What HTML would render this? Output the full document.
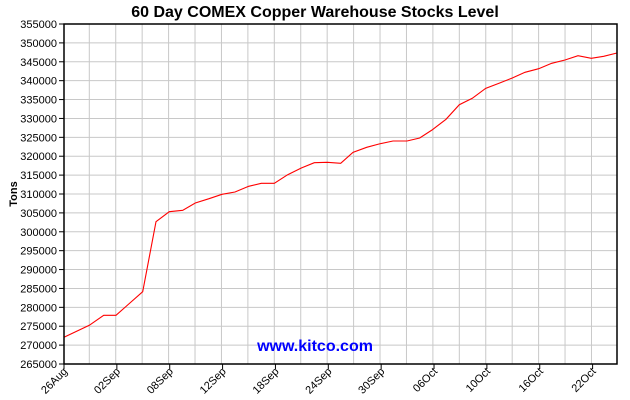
<!DOCTYPE html>
<html><head><style>body{margin:0;background:#fff}svg{display:block}</style></head><body>
<svg width="630" height="400" xmlns="http://www.w3.org/2000/svg" font-family="Liberation Sans, Arial, sans-serif">
<rect width="630" height="400" fill="#fff"/>
<text x="315" y="17" text-anchor="middle" font-size="16" font-weight="bold">60 Day COMEX Copper Warehouse Stocks Level</text>
<g stroke="#c8c8c8" stroke-width="1" id="grid"></g>
<g id="g"></g>
<text x="315" y="351" text-anchor="middle" font-size="16" font-weight="bold" fill="#0000ff">www.kitco.com</text>
<polyline fill="none" stroke="#ff0000" stroke-width="1.1" points="64,337.3 89.3,325.3 103.7,315.3 116,315.3 142.7,291.7 156,221.7 169.3,211.7 182.7,210.3 195.3,203 209,198.7 222,194.3 235,192 248.7,186.3 261.3,183.3 274.3,183.3 287.7,174.7 301.3,168 314.3,162.7 327.3,162.3 340.7,163.3 353,152.3 366.7,147.3 379,144 393,141 407,141 419.7,138 432,130 446,119.3 459.3,104.7 472.3,98.3 485.7,88.3 499.7,83 512.3,78 525,72.3 538.7,68.7 551.7,63.3 565,60 578,55.7 591.3,58.3 603.7,56.3 617,53"/>
<rect x="64" y="24" width="553" height="340" fill="none" stroke="#000" stroke-width="1.5"/>
<text transform="translate(17,194) rotate(-90)" text-anchor="middle" font-size="11" font-weight="bold">Tons</text>
</svg>
<script>
var ns="http://www.w3.org/2000/svg",gr=document.getElementById("grid"),g=document.getElementById("g");
function el(p,t,a,txt){var e=document.createElementNS(ns,t);for(var k in a)e.setAttribute(k,a[k]);if(txt)e.textContent=txt;p.appendChild(e);return e;}
for(var i=0;i<=18;i++){var y=24+i*340/18;
 if(i>0&&i<18)el(gr,"line",{x1:64,x2:617,y1:y,y2:y});
 el(g,"line",{x1:59,x2:64,y1:y,y2:y,stroke:"#000"});
 el(g,"text",{x:57,y:y+4,"text-anchor":"end","font-size":"11"},String(355000-i*5000));}
for(var k=0;k<20;k++){var x=89.3+k*26.43;el(gr,"line",{x1:x,x2:x,y1:24,y2:364});}
var labs=["26Aug","02Sep","08Sep","12Sep","18Sep","24Sep","30Sep","06Oct","10Oct","16Oct","22Oct"];
for(var j=0;j<labs.length;j++){var x=64+j*52.86;
 el(g,"line",{x1:x,x2:x,y1:364,y2:369,stroke:"#000"});
 el(g,"text",{transform:"translate("+(x+4)+",372) rotate(-45)","text-anchor":"end","font-size":"11"},labs[j]);}
</script>
</body></html>
